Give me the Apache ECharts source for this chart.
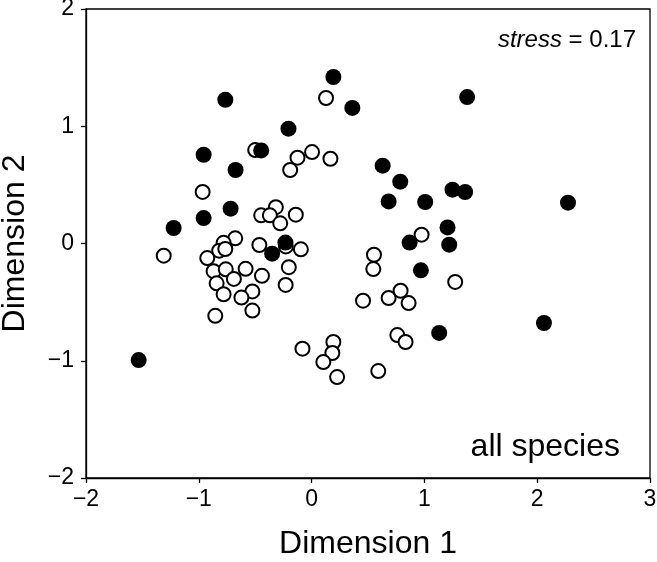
<!DOCTYPE html>
<html>
<head>
<meta charset="utf-8">
<script src="https://cdn.jsdelivr.net/npm/echarts@6/dist/echarts.min.js"></script>
<style>
html,body{margin:0;padding:0;background:#fff;}
#chart{width:657px;height:562px;}
</style>
</head>
<body>
<div id="chart"></div>
<script>
var xTicks = [-2, -1, 0, 1, 2, 3];
var yTicks = [-2, -1, 0, 1, 2];

var filledPoints = [
  [0.193, 1.42], [-0.765, 1.226], [0.361, 1.156], [-0.205, 0.979], [-0.447, 0.794],
  [-0.957, 0.757], [-0.674, 0.627], [-0.718, 0.297], [-0.957, 0.217], [-1.223, 0.132],
  [-0.232, 0.008], [-0.35, -0.087], [-1.533, -0.994], [1.379, 1.249], [0.63, 0.664],
  [0.786, 0.527], [0.683, 0.359], [1.007, 0.354], [1.249, 0.459], [1.361, 0.439],
  [2.273, 0.348], [1.205, 0.137], [0.869, 0.008], [1.22, -0.01], [0.969, -0.229],
  [1.131, -0.763], [2.06, -0.678]
];

var openPoints = [
  [0.128, 1.241], [-0.5, 0.797], [0.004, 0.78], [-0.125, 0.732], [0.167, 0.723],
  [-0.19, 0.627], [-0.966, 0.44], [-0.317, 0.31], [-0.447, 0.24], [-0.37, 0.24],
  [-0.14, 0.246], [-0.278, 0.172], [-0.677, 0.044], [-0.78, 0.006], [-0.819, -0.061],
  [-0.765, -0.047], [-0.925, -0.124], [-0.463, -0.013], [-0.228, -0.025], [-0.095, -0.05],
  [-1.311, -0.104], [-0.869, -0.236], [-0.761, -0.22], [-0.585, -0.216], [-0.689, -0.302],
  [-0.44, -0.276], [-0.202, -0.202], [-0.842, -0.34], [-0.23, -0.353], [-0.78, -0.433],
  [-0.525, -0.409], [-0.622, -0.461], [-0.525, -0.572], [-0.854, -0.617], [-0.081, -0.897],
  [0.193, -0.84], [0.184, -0.934], [0.104, -1.011], [0.226, -1.139], [0.456, -0.488],
  [0.975, 0.075], [0.553, -0.096], [0.547, -0.218], [1.273, -0.328], [0.683, -0.465],
  [0.789, -0.403], [0.86, -0.508], [0.76, -0.781], [0.833, -0.84], [0.591, -1.088]
];

var xName = 'Dimension 1';
var yName = 'Dimension 2';
var stressLabel = 'stress';
var stressValue = ' = 0.17';
var groupLabel = 'all species';

var FONT = '"Liberation Sans", Arial, sans-serif';
function fmt(v) { return String(v).replace('-', '\u2212'); }

var chart = echarts.init(document.getElementById('chart'), null, {renderer: 'canvas'});
chart.setOption({
  animation: false,
  backgroundColor: '#fff',
  grid: {left: 86, right: 7, top: 9, bottom: 84, containLabel: false, outerBoundsMode: 'none',
         show: true, borderColor: '#000', borderWidth: 1.3},
  xAxis: {
    type: 'value', min: xTicks[0], max: xTicks[xTicks.length - 1], interval: 1,
    splitLine: {show: false},
    axisLine: {show: true, onZero: false, lineStyle: {color: '#000', width: 1.3}},
    axisTick: {show: true, inside: false, length: 5, lineStyle: {color: '#000', width: 1.3}},
    axisLabel: {color: '#000', fontSize: 23, fontFamily: FONT, margin: 10, formatter: fmt},
    name: xName, nameLocation: 'middle', nameGap: 50,
    nameTextStyle: {color: '#000', fontSize: 32, fontFamily: FONT}
  },
  yAxis: {
    type: 'value', min: yTicks[0], max: yTicks[yTicks.length - 1], interval: 1,
    splitLine: {show: false},
    axisLine: {show: true, onZero: false, lineStyle: {color: '#000', width: 1.3}},
    axisTick: {show: true, inside: false, length: 5, lineStyle: {color: '#000', width: 1.3}},
    axisLabel: {color: '#000', fontSize: 23, fontFamily: FONT, margin: 12, formatter: fmt},
    name: yName, nameLocation: 'middle', nameGap: 55, nameRotate: 90,
    nameTextStyle: {color: '#000', fontSize: 32, fontFamily: FONT}
  },
  series: [
    {
      type: 'scatter', data: openPoints, symbol: 'circle', symbolSize: 14, z: 2,
      itemStyle: {color: '#fff', borderColor: '#000', borderWidth: 2, opacity: 1}
    },
    {
      type: 'scatter', data: filledPoints, symbol: 'circle', symbolSize: 16, z: 3,
      itemStyle: {color: '#000', borderColor: '#000', borderWidth: 0, opacity: 1}
    }
  ],
  graphic: [
    {
      type: 'text', right: 21, top: 28,
      style: {
        text: '{i|' + stressLabel + '}{n|' + stressValue + '}',
        rich: {
          i: {fontStyle: 'italic', fontSize: 24, fontFamily: FONT, fill: '#000'},
          n: {fontSize: 24, fontFamily: FONT, fill: '#000'}
        }
      }
    },
    {
      type: 'text', right: 37, top: 431,
      style: {text: groupLabel, fontSize: 32, fontFamily: FONT, fill: '#000'}
    }
  ]
});
</script>
</body>
</html>
